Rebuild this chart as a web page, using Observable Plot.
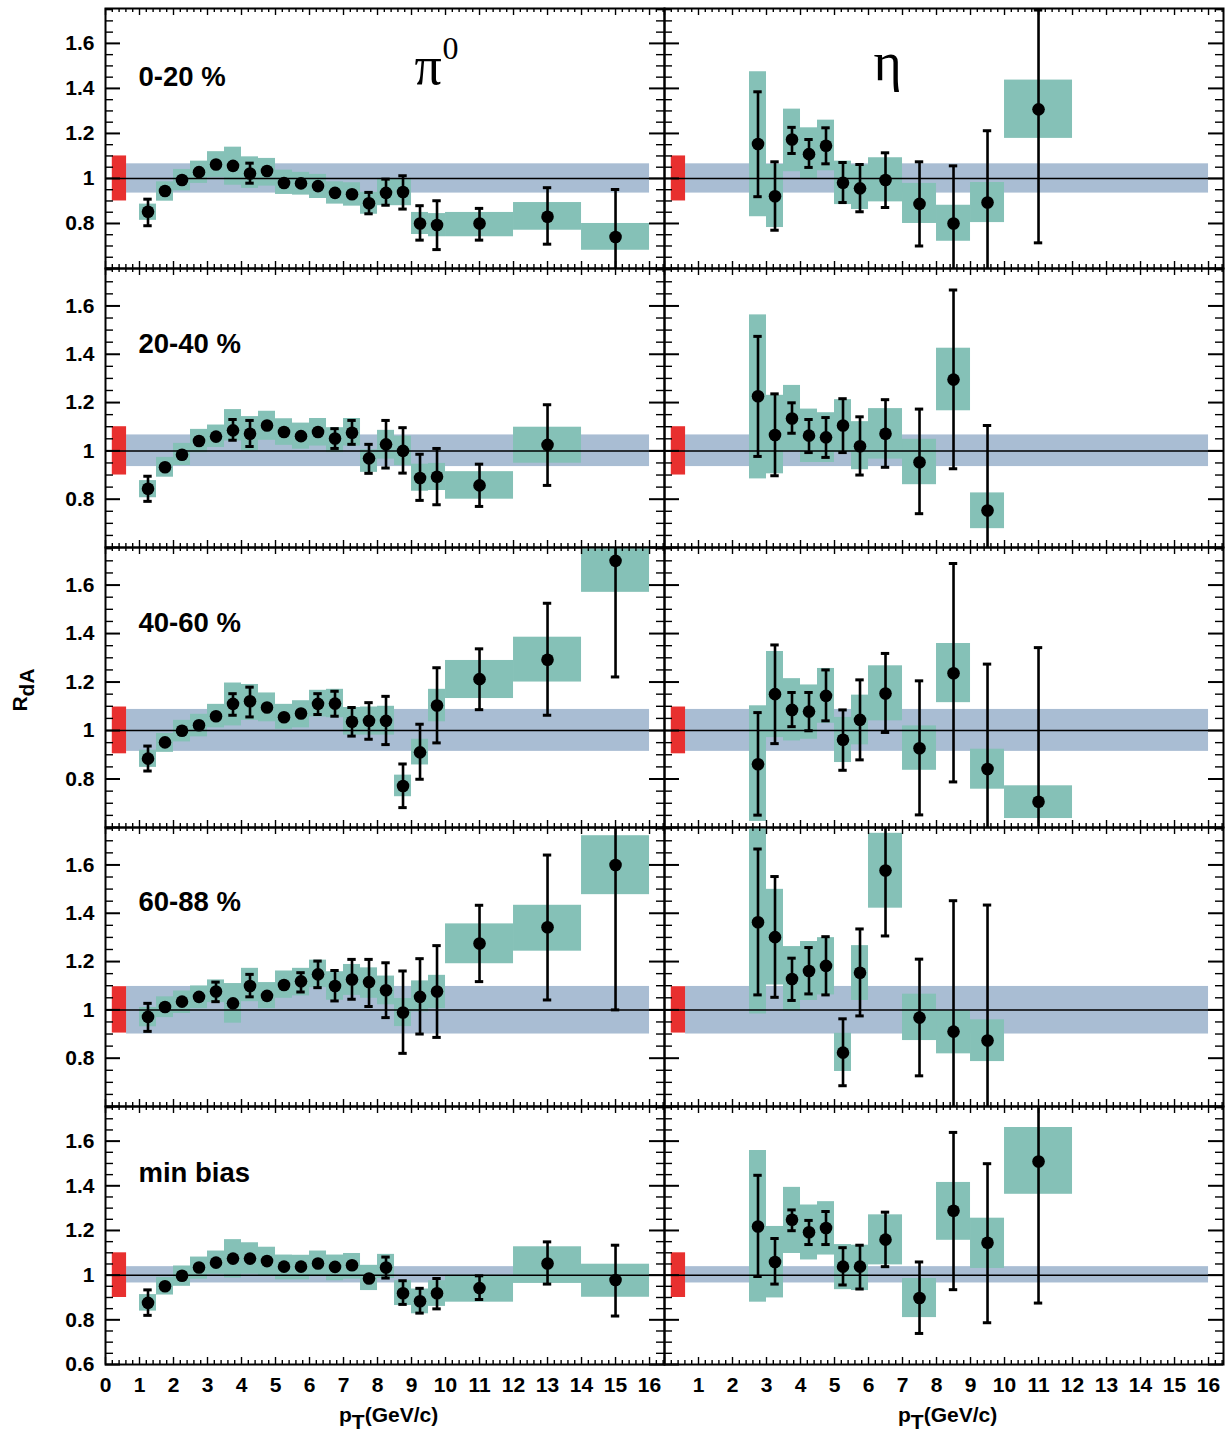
<!DOCTYPE html>
<html><head><meta charset="utf-8">
<script src="https://cdn.jsdelivr.net/npm/d3@7"></script>
<script src="https://cdn.jsdelivr.net/npm/@observablehq/plot@0.6"></script>
<style>
body{margin:0;background:#fff;}
#wrap{position:relative;width:1232px;height:1436px;background:#fff;font-family:"Liberation Sans",Arial,sans-serif;}
.panel{position:absolute;}
.panel svg{overflow:visible !important;display:block;}
.title{position:absolute;font-weight:bold;font-size:21px;white-space:nowrap;color:#000;line-height:1;}
.title sub{font-size:21px;vertical-align:-7px;line-height:1;}
</style></head><body><div id="wrap"></div><script>
// ---------- data ----------
const rowLabels = ["0-20 %", "20-40 %", "40-60 %", "60-88 %", "min bias"];

const pi0X = [1.25,1.75,2.25,2.75,3.25,3.75,4.25,4.75,5.25,5.75,6.25,6.75,7.25,7.75,8.25,8.75,9.25,9.75,11,13,15];
const pi0Half = [0.25,0.25,0.25,0.25,0.25,0.25,0.25,0.25,0.25,0.25,0.25,0.25,0.25,0.25,0.25,0.25,0.25,0.25,1,1,1];
const etaX = [2.75,3.25,3.75,4.25,4.75,5.25,5.75,6.5,7.5,8.5,9.5,11];
const etaHalf = [0.25,0.25,0.25,0.25,0.25,0.25,0.25,0.5,0.5,0.5,0.5,1];

const pi0Y = [
 [0.852,0.944,0.993,1.028,1.062,1.056,1.022,1.033,0.980,0.978,0.966,0.936,0.930,0.890,0.936,0.940,0.800,0.793,0.800,0.830,0.740],
 [0.843,0.932,0.984,1.041,1.059,1.085,1.071,1.105,1.078,1.061,1.078,1.051,1.075,0.969,1.027,1.000,0.888,0.893,0.857,1.025],
 [0.884,0.951,0.999,1.022,1.059,1.110,1.121,1.095,1.055,1.070,1.110,1.111,1.036,1.040,1.040,0.771,0.910,1.103,1.212,1.292,1.700],
 [0.971,1.012,1.034,1.054,1.076,1.027,1.099,1.058,1.103,1.118,1.147,1.099,1.126,1.115,1.081,0.989,1.054,1.076,1.275,1.342,1.600],
 [0.876,0.950,0.997,1.034,1.056,1.074,1.074,1.063,1.038,1.038,1.052,1.037,1.044,0.985,1.034,0.919,0.883,0.919,0.942,1.052,0.978]
];
const pi0ErrLo = [
 [0.790,null,null,null,null,null,0.979,null,null,null,null,null,null,0.843,0.881,0.864,0.726,0.684,0.726,0.708,0.450],
 [0.791,null,null,null,null,1.044,1.018,null,null,null,null,1.010,1.027,0.907,0.929,0.908,0.795,0.777,0.770,0.857],
 [0.833,null,null,null,null,1.063,1.056,null,null,null,1.066,1.059,0.977,0.964,0.942,0.682,0.799,0.949,1.086,1.063,1.221],
 [0.911,null,null,null,1.034,null,1.054,null,null,1.074,1.092,1.037,1.044,1.014,0.968,0.820,0.900,0.886,1.117,1.041,1.000],
 [0.820,null,null,null,null,null,null,null,null,null,null,null,null,null,0.987,0.869,0.830,0.849,0.891,0.960,0.817]
];
const pi0ErrHi = [
 [0.908,null,null,null,null,null,1.068,null,null,null,null,null,null,0.938,0.997,1.012,0.879,0.901,0.867,0.959,0.951],
 [0.895,null,null,null,null,1.130,1.126,null,null,null,null,1.092,1.126,1.027,1.126,1.096,0.986,1.010,0.945,1.191],
 [0.936,null,null,null,null,1.152,1.179,null,null,null,1.152,1.162,1.095,1.115,1.141,0.862,1.026,1.259,1.337,1.525,1.800],
 [1.027,null,null,null,1.115,null,1.147,null,null,1.154,1.202,1.163,1.209,1.209,1.195,1.161,1.212,1.266,1.433,1.641,1.800],
 [0.934,null,null,null,null,null,null,null,null,null,null,null,null,null,1.081,0.975,0.941,0.985,0.997,1.149,1.134]
];
const pi0SysLo = [
 [0.814,0.899,0.945,0.978,1.004,0.970,0.956,0.966,0.929,0.926,0.911,0.886,0.877,0.841,0.879,0.879,0.751,0.741,0.741,0.770,0.681],
 [0.806,0.891,0.939,0.993,1.014,1.041,1.000,1.044,1.023,1.007,1.020,0.993,1.020,0.911,0.966,0.939,0.833,0.836,0.800,0.949],
 [0.848,0.910,0.953,0.974,1.011,1.019,1.042,1.036,1.005,1.011,1.056,1.053,0.981,0.981,0.981,0.727,0.858,1.036,1.132,1.200,1.570],
 [0.930,0.968,0.985,1.005,1.030,0.945,1.034,1.005,1.048,1.058,1.092,1.040,1.060,1.048,1.021,0.931,0.992,1.005,1.191,1.243,1.477],
 [0.839,0.911,0.950,0.982,1.004,0.987,1.004,0.994,0.979,0.979,0.997,0.975,0.982,0.931,0.985,0.864,0.827,0.860,0.879,0.963,0.901]
];
const pi0SysHi = [
 [0.886,0.985,1.040,1.077,1.119,1.139,1.096,1.089,1.037,1.027,1.018,0.985,0.981,0.938,1.000,1.000,0.849,0.844,0.849,0.893,0.800],
 [0.877,0.973,1.031,1.089,1.107,1.171,1.142,1.164,1.133,1.115,1.134,1.096,1.134,1.004,1.085,1.061,0.945,0.948,0.914,1.098],
 [0.919,0.988,1.042,1.067,1.108,1.196,1.190,1.155,1.108,1.123,1.166,1.170,1.095,1.097,1.100,0.816,0.964,1.170,1.289,1.385,1.800],
 [1.010,1.054,1.078,1.099,1.124,1.109,1.172,1.113,1.161,1.172,1.206,1.158,1.188,1.174,1.140,1.047,1.120,1.143,1.356,1.433,1.721],
 [0.913,0.990,1.041,1.081,1.108,1.159,1.145,1.125,1.090,1.089,1.108,1.090,1.097,1.044,1.093,0.975,0.938,0.975,1.000,1.127,1.049]
];

const etaY = [
 [1.153,0.921,1.173,1.108,1.145,0.981,0.956,0.993,0.887,0.800,0.893,1.307],
 [1.226,1.066,1.134,1.063,1.056,1.105,1.019,1.071,0.953,1.295,0.753],
 [0.861,1.150,1.085,1.078,1.143,0.962,1.044,1.153,0.927,1.236,0.841,0.706],
 [1.363,1.301,1.128,1.161,1.182,0.823,1.154,1.577,0.968,0.910,0.873],
 [1.218,1.059,1.248,1.192,1.211,1.038,1.038,1.159,0.898,1.288,1.145,1.509]
];
const etaErrLo = [
 [0.919,0.770,1.111,1.049,1.065,0.893,0.852,0.871,0.700,0.450,0.450,0.714],
 [0.977,0.897,1.073,0.993,0.973,0.993,0.900,0.932,0.740,0.926,0.450],
 [0.651,0.946,1.016,0.999,1.040,0.836,0.879,0.992,0.652,0.788,0.450,0.450],
 [1.062,1.052,1.039,1.066,1.062,0.686,0.975,1.306,0.727,0.450,0.450],
 [0.994,0.960,1.199,1.137,1.137,0.956,0.938,1.038,0.739,0.935,0.787,0.875]
];
const etaErrHi = [
 [1.385,1.074,1.227,1.173,1.225,1.071,1.062,1.114,1.074,1.056,1.212,1.748],
 [1.474,1.236,1.199,1.130,1.138,1.216,1.141,1.212,1.173,1.666,1.105],
 [1.074,1.353,1.157,1.157,1.250,1.085,1.209,1.318,1.205,1.689,1.274,1.342],
 [1.666,1.552,1.214,1.258,1.303,0.963,1.335,1.850,1.210,1.452,1.434],
 [1.447,1.164,1.292,1.245,1.285,1.123,1.134,1.282,1.059,1.639,1.499,1.850]
];
const etaSysLo = [
 [0.830,0.782,1.030,0.996,1.034,0.884,0.862,0.896,0.800,0.721,0.804,1.178],
 [0.884,0.905,1.000,0.952,0.952,0.993,0.922,0.966,0.860,1.166,0.678],
 [0.625,0.971,0.957,0.964,1.030,0.868,0.941,1.040,0.836,1.115,0.758,0.637],
 [0.983,1.103,0.996,1.039,1.062,0.745,1.039,1.421,0.873,0.818,0.786],
 [0.879,0.898,1.097,1.068,1.090,0.935,0.931,1.046,0.810,1.156,1.030,1.362]
];
const etaSysHi = [
 [1.474,1.062,1.308,1.225,1.259,1.077,1.059,1.092,0.978,0.881,0.982,1.437],
 [1.563,1.230,1.271,1.173,1.158,1.212,1.121,1.175,1.048,1.425,0.826],
 [1.102,1.326,1.214,1.188,1.256,1.054,1.146,1.267,1.019,1.359,0.923,0.772],
 [1.850,1.499,1.262,1.283,1.299,0.903,1.266,1.731,1.065,0.996,0.959],
 [1.558,1.218,1.393,1.314,1.329,1.137,1.134,1.270,0.985,1.415,1.255,1.661]
];

// normalisation (red) and global (blue band) uncertainties per centrality row
const normX = [0.2, 0.62];
const normLo = [0.900,0.900,0.904,0.904,0.900];
const normHi = [1.100,1.100,1.097,1.096,1.100];
const bandX = [0.62, 16];
const bandLo = [0.935,0.935,0.914,0.900,0.965];
const bandHi = [1.065,1.066,1.087,1.097,1.038];

const yTickLabels = [0.8, 1, 1.2, 1.4, 1.6];
const xTickLabels = d3.range(0, 17);

// ---------- layout & style ----------
const TEAL = "#85c1b7", BLUE = "#a9bdd3", RED = "#e8302f";
const xDomain = [0, 16.44], yDomain = [0.6, 1.755];
const colX = [105, 664], panelW = 559;
const rowTop = [8, 268, 547, 827, 1106], rowBot = [268, 547, 827, 1106, 1364];
const labelDy = [69, 76, 76, 75, 67];
const xMajor = d3.range(0, 17);
const xMinor = d3.range(0, 83).map(i => i * 0.2).filter((v, i) => i % 5 !== 0 && v <= 16.44);
const yMajor = [0.6, 0.8, 1.0, 1.2, 1.4, 1.6];
const yMinor = d3.range(0, 24).filter(i => i % 4 !== 0).map(i => 0.6 + i * 0.05);

const wrap = document.getElementById("wrap");

function drawPanel(r, c) {
  const W = panelW, H = rowBot[r] - rowTop[r];
  const isPi = c === 0;
  const Y = (isPi ? pi0Y : etaY)[r];
  const X = isPi ? pi0X : etaX, half = isPi ? pi0Half : etaHalf;
  const eLo = (isPi ? pi0ErrLo : etaErrLo)[r], eHi = (isPi ? pi0ErrHi : etaErrHi)[r];
  const sLo = (isPi ? pi0SysLo : etaSysLo)[r], sHi = (isPi ? pi0SysHi : etaSysHi)[r];
  const pts = Y.map((y, i) => ({x: X[i], x1: X[i] - half[i], x2: X[i] + half[i], y,
    lo: eLo[i], hi: eHi[i], slo: sLo[i], shi: sHi[i]}));
  const bars = pts.filter(d => d.lo != null);
  const capHalf = 4.2 * (xDomain[1] - xDomain[0]) / W;
  const tickStyle = {stroke: "black", strokeWidth: 1.4};
  const marks = [
    Plot.rect([r], {x1: () => bandX[0], x2: () => bandX[1], y1: d => bandLo[d], y2: d => bandHi[d], fill: BLUE}),
    Plot.rect(pts, {x1: "x1", x2: "x2", y1: "slo", y2: "shi", fill: TEAL, clip: true}),
    Plot.rect([r], {x1: () => normX[0], x2: () => normX[1], y1: d => normLo[d], y2: d => normHi[d], fill: RED}),
    Plot.ruleY([1], {stroke: "black", strokeWidth: 1.5}),
    Plot.ruleX(bars, {x: "x", y1: "lo", y2: "hi", stroke: "black", strokeWidth: 2.6, clip: true}),
    Plot.ruleY(bars, {y: "lo", x1: d => d.x - capHalf, x2: d => d.x + capHalf, stroke: "black", strokeWidth: 3, clip: true}),
    Plot.ruleY(bars, {y: "hi", x1: d => d.x - capHalf, x2: d => d.x + capHalf, stroke: "black", strokeWidth: 3, clip: true}),
    Plot.dot(pts, {x: "x", y: "y", r: 6.3, fill: "black", clip: true}),
    Plot.tickX(xMajor, {x: d => d, insetTop: H - 7, ...tickStyle}),
    Plot.tickX(xMajor, {x: d => d, insetBottom: H - 7, ...tickStyle}),
    Plot.tickX(xMinor, {x: d => d, insetTop: H - 4, ...tickStyle}),
    Plot.tickX(xMinor, {x: d => d, insetBottom: H - 4, ...tickStyle}),
    Plot.tickY(yMajor, {y: d => d, insetRight: W - 15, ...tickStyle, strokeWidth: 2}),
    Plot.tickY(yMajor, {y: d => d, insetLeft: W - 15, ...tickStyle, strokeWidth: 2}),
    Plot.tickY(yMinor, {y: d => d, insetRight: W - 8, ...tickStyle}),
    Plot.tickY(yMinor, {y: d => d, insetLeft: W - 8, ...tickStyle}),
    Plot.frame({stroke: "black", strokeWidth: 2})
  ];
  if (c === 0) {
    const labs = r === 4 ? [0.6, ...yTickLabels] : yTickLabels;
    marks.push(Plot.text(labs, {y: d => d, frameAnchor: "left", dx: -11, textAnchor: "end", lineAnchor: "middle",
      text: d => String(d), fontSize: 21, fontWeight: "bold"}));
    marks.push(Plot.text([rowLabels[r]], {frameAnchor: "top-left", dx: 33, dy: labelDy[r], lineAnchor: "middle",
      text: d => d, textAnchor: "start", fontSize: 27.5, fontWeight: "bold"}));
  }
  if (r === 4) {
    const labs = c === 0 ? xTickLabels : xTickLabels.filter(v => v > 0);
    marks.push(Plot.text(labs, {x: d => d, frameAnchor: "bottom", dy: 21, lineAnchor: "middle",
      text: d => String(d), fontSize: 21, fontWeight: "bold"}));
  }
  if (r === 0 && c === 0) {
    marks.push(Plot.text(["π"], {frameAnchor: "top-left", dx: 309, dy: 58, lineAnchor: "middle", textAnchor: "start", text: d => d,
      fontFamily: "Liberation Serif", fontSize: 54}));
    marks.push(Plot.text(["0"], {frameAnchor: "top-left", dx: 337, dy: 40, lineAnchor: "middle", textAnchor: "start", text: d => d,
      fontFamily: "Liberation Serif", fontSize: 32}));
  }
  if (r === 0 && c === 1) {
    marks.push(Plot.text(["η"], {frameAnchor: "top-left", dx: 209, dy: 54, lineAnchor: "middle", text: d => d,
      fontFamily: "Liberation Serif", fontSize: 54}));
  }
  const svg = Plot.plot({
    width: W, height: H, margin: 0,
    x: {domain: xDomain, axis: null},
    y: {domain: yDomain, axis: null},
    style: {overflow: "visible", fontFamily: "Liberation Sans, Arial, sans-serif", background: "transparent", color: "black"},
    marks
  });
  const div = document.createElement("div");
  div.className = "panel";
  div.style.left = colX[c] + "px";
  div.style.top = rowTop[r] + "px";
  div.style.width = W + "px";
  div.style.height = H + "px";
  div.appendChild(svg);
  wrap.appendChild(div);
}

for (let r = 0; r < 5; r++) for (let c = 0; c < 2; c++) drawPanel(r, c);

// axis titles
function addTitle(html, left, top, extra) {
  const d = document.createElement("div");
  d.className = "title";
  d.innerHTML = html;
  d.style.left = left + "px";
  d.style.top = top + "px";
  if (extra) Object.assign(d.style, extra);
  wrap.appendChild(d);
}
addTitle("p<sub>T</sub>(GeV/c)", 339, 1404);
addTitle("p<sub>T</sub>(GeV/c)", 898, 1404);
addTitle("R<sub>dA</sub>", 23, 690, {transform: "translate(-50%,-50%) rotate(-90deg)"});
</script></body></html>
